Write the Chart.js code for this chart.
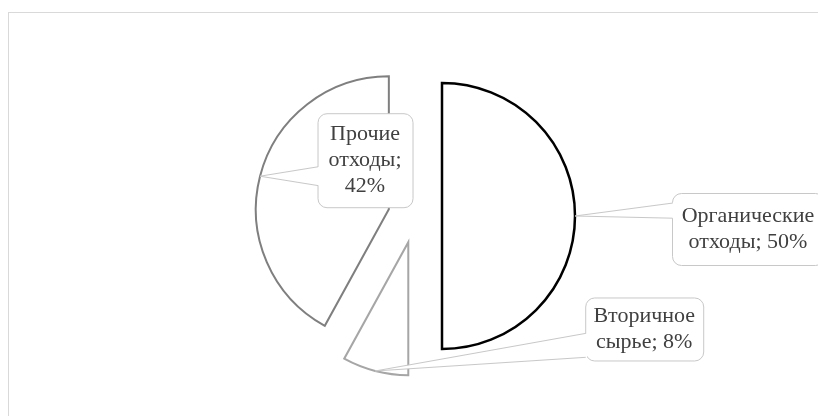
<!DOCTYPE html>
<html>
<head>
<meta charset="utf-8">
<script src="https://cdn.jsdelivr.net/npm/chart.js@4/dist/chart.umd.min.js"></script>
<style>
  html, body { margin: 0; padding: 0; background: #fff; }
  canvas { display: block; }
</style>
</head>
<body>
<canvas id="pie_chart" width="818" height="416"></canvas>
<script>
// data
var categories = ['Органические отходы', 'Вторичное сырье', 'Прочие отходы'];
var shares = [50, 8, 42];

// looks
var borderColors = ['#000000', '#a6a6a6', '#7f7f7f'];
var borderWidths = [2.5, 2, 2];
var explode = 27;
var fontFamily = '"Liberation Serif", "Times New Roman", serif';
var fontSize = 22;
var lineHeight = 26;

// callout boxes: centre relative to the slice's outer mid point, size, wedge base (fractions of the near side)
var calloutLayout = [
  { dx: 173, dy: 13, w: 152, h: 72, wedge: [0.14, 0.35] },
  { dx: 269, dy: -42, w: 118, h: 63, wedge: [0.57, 0.95] },
  { dx: 105, dy: -16, w: 95, h: 94, wedge: [0.57, 0.77] }
];

// background frame
Chart.register({
  id: 'frame',
  beforeDraw: function(chart) {
    var ctx = chart.ctx;
    ctx.save();
    ctx.fillStyle = '#ffffff';
    ctx.fillRect(0, 0, chart.width, chart.height);
    ctx.strokeStyle = '#d9d9d9';
    ctx.lineWidth = 1;
    ctx.strokeRect(8.5, 12.5, chart.width + 20, chart.height + 20);
    ctx.restore();
  }
});

// pull each slice out along its middle angle
Chart.register({
  id: 'explodeSlices',
  afterDatasetUpdate: function(chart, args) {
    args.meta.data.forEach(function(arc) {
      var mid = (arc.startAngle + arc.endAngle) / 2;
      arc.x += Math.cos(mid) * explode;
      arc.y += Math.sin(mid) * explode;
    });
  }
});

function wrapText(ctx, text, maxWidth) {
  var words = text.split(' ');
  var lines = [];
  var line = '';
  words.forEach(function(w) {
    var test = line ? line + ' ' + w : w;
    if (line && ctx.measureText(test).width > maxWidth) {
      lines.push(line);
      line = w;
    } else {
      line = test;
    }
  });
  if (line) lines.push(line);
  return lines;
}

function roundRect(ctx, x, y, w, h, r) {
  ctx.beginPath();
  ctx.moveTo(x + r, y);
  ctx.lineTo(x + w - r, y);
  ctx.arcTo(x + w, y, x + w, y + r, r);
  ctx.lineTo(x + w, y + h - r);
  ctx.arcTo(x + w, y + h, x + w - r, y + h, r);
  ctx.lineTo(x + r, y + h);
  ctx.arcTo(x, y + h, x, y + h - r, r);
  ctx.lineTo(x, y + r);
  ctx.arcTo(x, y, x + r, y, r);
  ctx.closePath();
}

// data callouts
Chart.register({
  id: 'callouts',
  afterDatasetsDraw: function(chart) {
    var ctx = chart.ctx;
    var meta = chart.getDatasetMeta(0);
    var data = chart.data.datasets[0].data;
    var total = data.reduce(function(a, b) { return a + b; }, 0);

    meta.data.forEach(function(arc, i) {
      var lay = calloutLayout[i];
      var mid = (arc.startAngle + arc.endAngle) / 2;
      var ax = arc.x + Math.cos(mid) * arc.outerRadius;
      var ay = arc.y + Math.sin(mid) * arc.outerRadius;
      var cx = ax + lay.dx;
      var cy = ay + lay.dy;
      var bx = cx - lay.w / 2;
      var by = cy - lay.h / 2;

      ctx.save();
      ctx.lineWidth = 1;
      ctx.strokeStyle = '#c8c8c8';
      ctx.fillStyle = '#ffffff';
      roundRect(ctx, bx + 0.5, by + 0.5, lay.w, lay.h, 9);
      ctx.fill();
      ctx.stroke();

      // wedge pointer
      var p1y = by + lay.h * lay.wedge[0];
      var p2y = by + lay.h * lay.wedge[1];
      var ex = bx + 0.5;
      ctx.beginPath();
      ctx.moveTo(ax, ay);
      ctx.lineTo(ex + 1.5, p1y);
      ctx.lineTo(ex + 1.5, p2y);
      ctx.closePath();
      ctx.fill();
      ctx.beginPath();
      ctx.moveTo(ax, ay);
      ctx.lineTo(ex, p1y);
      ctx.moveTo(ax, ay);
      ctx.lineTo(ex, p2y);
      ctx.stroke();

      // text
      ctx.font = fontSize + 'px ' + fontFamily;
      ctx.fillStyle = '#404040';
      ctx.textAlign = 'center';
      ctx.textBaseline = 'middle';
      var pct = Math.round(data[i] / total * 100);
      var text = chart.data.labels[i] + '; ' + pct + '%';
      var lines = wrapText(ctx, text, lay.w - 8);
      var y0 = cy - (lines.length - 1) * lineHeight / 2;
      lines.forEach(function(l, k) {
        ctx.fillText(l, cx, y0 + k * lineHeight);
      });
      ctx.restore();
    });
  }
});

var pieChart = new Chart('pie_chart', {
  type: 'pie',
  data: {
    labels: categories,
    datasets: [{
      data: shares,
      backgroundColor: '#ffffff',
      borderColor: borderColors,
      borderWidth: borderWidths,
      borderJoinStyle: 'miter',
      borderAlign: 'center'
    }]
  },
  options: {
    responsive: false,
    animation: false,
    devicePixelRatio: 1,
    events: [],
    radius: 133,
    layout: { padding: { left: 12, top: 16, right: 0, bottom: 0 } },
    plugins: {
      legend: { display: false },
      tooltip: { enabled: false }
    }
  }
});
</script>
</body>
</html>
